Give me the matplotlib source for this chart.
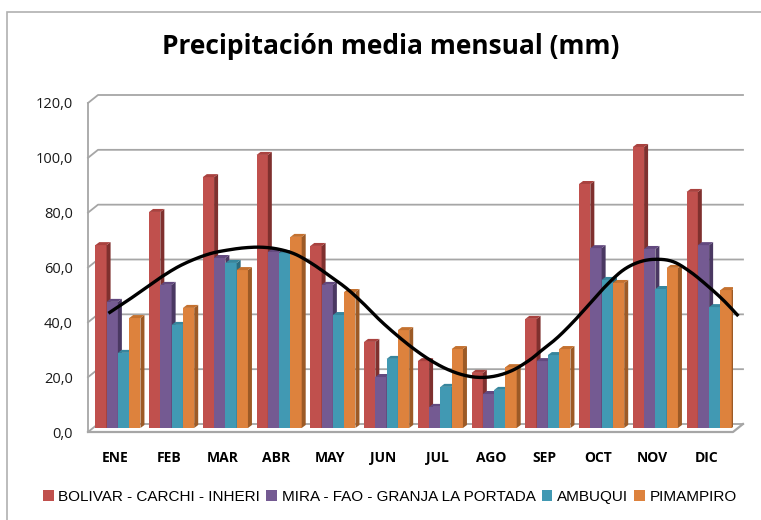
import numpy as np
import matplotlib.pyplot as plt
from matplotlib.patches import Polygon, Rectangle
from matplotlib import font_manager

meses = ['ENE', 'FEB', 'MAR', 'ABR', 'MAY', 'JUN', 'JUL', 'AGO', 'SEP', 'OCT', 'NOV', 'DIC']
estaciones = ['BOLIVAR - CARCHI - INHERI', 'MIRA - FAO - GRANJA LA PORTADA', 'AMBUQUI', 'PIMAMPIRO']

bolivar = [66.7, 78.8, 91.5, 99.6, 66.4, 31.4, 24.4, 20.1, 39.8, 89.0, 102.5, 86.1]
mira = [46.0, 52.2, 62.0, 64.2, 52.2, 18.6, 7.7, 12.4, 24.4, 65.6, 65.3, 66.7]
ambuqui = [27.4, 37.6, 60.2, 63.8, 41.2, 25.2, 15.0, 13.9, 26.6, 54.0, 50.7, 44.1]
pimampiro = [40.1, 43.8, 57.6, 69.7, 49.6, 35.7, 28.8, 22.2, 28.8, 52.9, 58.4, 50.3]
series = [bolivar, mira, ambuqui, pimampiro]

# trend curve (month index, mm)
tend_x = [-0.12, 0.25, 0.56, 0.87, 1.18, 1.49, 1.80, 2.11, 2.42, 2.73, 3.04, 3.35, 3.66,
          3.97, 4.31, 4.62, 4.93, 5.24, 5.55, 5.86, 6.17, 6.48, 6.79, 7.10, 7.41, 7.72,
          7.91, 8.22, 8.53, 8.84, 9.15, 9.46, 9.77, 10.08, 10.39, 10.70, 11.01, 11.32, 11.60]
tend_y = [43.3, 48.1, 52.4, 56.6, 60.3, 63.1, 65.2, 66.4, 67.2, 67.4, 66.7, 64.9, 61.5,
          57.3, 52.4, 46.9, 40.8, 35.4, 30.5, 26.3, 23.0, 20.8, 19.9, 20.5, 22.6, 26.3,
          29.3, 34.2, 40.2, 46.9, 53.6, 59.1, 62.1, 63.0, 62.1, 58.5, 53.6, 48.1, 42.3]

# front, side, top colours
front = ['#C0504D', '#745A92', '#4199B3', '#DD823D']
side = ['#7F302E', '#4A3862', '#2B6A7D', '#9C5A26']
top = ['#A9423F', '#62497F', '#37869D', '#C4712F']

names = {f.name for f in font_manager.fontManager.ttflist}
narrow = 'Liberation Sans Narrow' if 'Liberation Sans Narrow' in names else 'Liberation Sans'
plt.rcParams['font.family'] = ['Open Sans', 'DejaVu Sans']


def catmull_rom(xs, ys, n=12):
    p = np.column_stack([xs, ys])
    p = np.vstack([2 * p[0] - p[1], p, 2 * p[-1] - p[-2]])
    t = np.linspace(0, 1, n)[:, None]
    out = []
    for i in range(1, len(p) - 2):
        p0, p1, p2, p3 = p[i - 1], p[i], p[i + 1], p[i + 2]
        seg = 0.5 * ((2 * p1) + (-p0 + p2) * t + (2 * p0 - 5 * p1 + 4 * p2 - p3) * t ** 2
                     + (-p0 + 3 * p1 - 3 * p2 + p3) * t ** 3)
        out.append(seg if i == 1 else seg[1:])
    out = np.vstack(out)
    return out[:, 0], out[:, 1]


fig = plt.figure(figsize=(7.61, 5.20), dpi=100)
ax = fig.add_axes([88 / 761, 1 - 432 / 520, 645 / 761, 329 / 520])
ax.set_xlim(-0.5, 11.5)
ax.set_ylim(0, 120)

# pixel sizes in data units
px_x = 12 / 645
px_y = 120 / 329
gx, gy = 10 * px_x, 8 * px_y      # back wall
bx, by = 3 * px_x, 4 * px_y       # bar plane
dx, dy = 4 * px_x, 3 * px_y       # bar depth

# walls and gridlines
grid_c = '#A6A6A6'
for v in range(0, 121, 20):
    ax.plot([-0.5, -0.5 + gx, 11.5 + gx], [v, v + gy, v + gy], color=grid_c,
            lw=1.3, clip_on=False, zorder=1)
ax.plot([-0.5, -0.5], [0, 120], color=grid_c, lw=1.3, clip_on=False, zorder=1)
ax.plot([-0.5, 11.5, 11.5 + gx], [0, 0, gy], color=grid_c, lw=1.6, clip_on=False, zorder=1)

# bars
w = 0.21
x = np.arange(len(meses))
for k, vals in enumerate(series):
    xs = x + (k - 1.5) * w + bx
    ax.bar(xs, vals, width=w, bottom=by, color=front[k], lw=0, zorder=2 + 0.01 * k)
    for xc, v in zip(xs, vals):
        x0, x1 = xc - w / 2, xc + w / 2
        h = by + v
        ax.add_patch(Polygon([(x1, by), (x1 + dx, by + dy), (x1 + dx, h + dy), (x1, h)],
                             closed=True, fc=side[k], lw=0, zorder=2 + 0.01 * k))
        ax.add_patch(Polygon([(x0, h), (x0 + dx, h + dy), (x1 + dx, h + dy), (x1, h)],
                             closed=True, fc=top[k], lw=0, zorder=2 + 0.01 * k))

# trend line
cx, cy = catmull_rom(tend_x, tend_y)
ax.plot(cx, cy, color='black', lw=2.4, zorder=5, clip_on=False, solid_capstyle='butt')

for s in ax.spines.values():
    s.set_visible(False)
ax.set_yticks(range(0, 121, 20))
ax.set_yticklabels([f'{v:.1f}'.replace('.', ',') for v in range(0, 121, 20)], fontsize=10.5, color='#1a1a1a')
ax.set_xticks(x)
ax.set_xticklabels(meses, fontsize=10, fontweight='bold')
ax.tick_params(axis='y', length=0, pad=11)
ax.tick_params(axis='x', length=0, pad=14)

fig.text(391 / 761, 1 - 47 / 520, 'Precipitación media mensual (mm)', ha='center', va='center',
         fontsize=19, fontweight='bold')

handles = [Rectangle((0, 0), 1, 1, fc=c, lw=0) for c in front]
fig.legend(handles, estaciones, loc='center', bbox_to_anchor=(390 / 761, 1 - 497 / 520), ncol=4,
           frameon=False, handlelength=0.7, handleheight=0.7, handletextpad=0.3, columnspacing=0.4,
           prop={'family': [narrow, 'DejaVu Sans'], 'size': 11})

# chart frame
fig.patches.append(Rectangle((7 / 761, -0.1), 1.1, 1 - 12 / 520 + 0.1, transform=fig.transFigure,
                             fill=False, ec='#B0B0B0', lw=1.2))

fig.savefig('out.png', dpi=100)
